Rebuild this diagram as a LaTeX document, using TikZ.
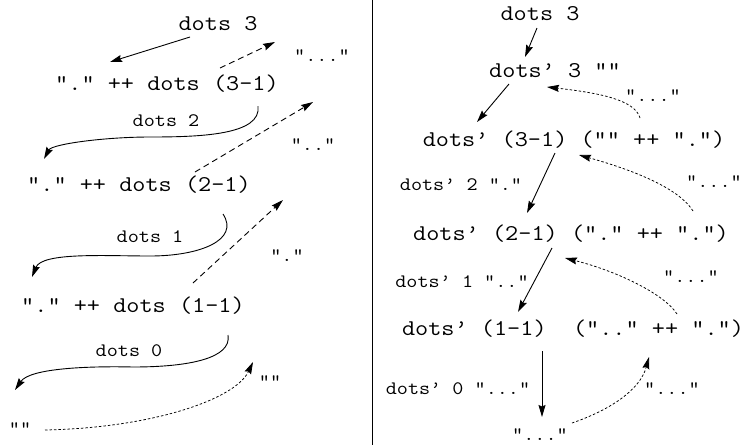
\documentclass[tikz,border=0pt]{standalone}
\usepackage{fontspec}
\usetikzlibrary{arrows.meta}
% typewriter text, widened to Courier-like proportions
\newcommand\wide[1]{\scalebox{1.135}[1]{#1}}
\begin{document}
\begin{tikzpicture}[x=1pt,y=-1pt,
  expr/.style={font=\ttfamily\fontsize{22.5}{24}\selectfont, inner sep=0pt, anchor=base},
  lbl/.style={font=\ttfamily\fontsize{19}{20}\selectfont, inner sep=0pt, anchor=base},
  link/.style={line width=0.9pt, -{Stealth[length=12pt,width=7pt,inset=1.5pt]}},
  dashlink/.style={link, dash pattern=on 6pt off 4pt},
  dotlink/.style={link, line width=0.75pt, dash pattern=on 2.5pt off 2pt},
]
\useasboundingbox (0,0) rectangle (745,445);

% divider between the two evaluations
\draw[line width=1.2pt] (372.5,0) -- (372.5,445);

% ---------- left: dots n = "." ++ dots (n-1) ----------
\node[expr] (l3)    at (218,30.5)  {\wide{dots 3}};
\node[expr] (l31)   at (167,90)    {\wide{"." ++ dots (3–1)}};
\node[lbl]  (lr3)   at (322,61)    {\wide{"..."}};
\node[lbl]  (ld2)   at (166,126.5) {\wide{dots 2}};
\node[lbl]  (lr2)   at (313,150)   {\wide{".."}};
\node[expr] (l21)   at (139,191.5) {\wide{"." ++ dots (2–1)}};
\node[lbl]  (ld1)   at (150,242.5) {\wide{dots 1}};
\node[lbl]  (lr1)   at (287,261.5) {\wide{"."}};
\node[expr] (l11)   at (133,312)   {\wide{"." ++ dots (1–1)}};
\node[lbl]  (ld0)   at (129,356.5) {\wide{dots 0}};
\node[lbl]  (lr0)   at (270,387)   {\wide{""}};
\node[lbl]  (lbase) at (20,434)    {\wide{""}};

\draw[link] ([shift={(-28,6.5)}]l3.base) -- ([shift={(-57,-28)}]l31.base);
\draw[dashlink] ([shift={(53,-22)}]l31.base) -- ([shift={(-47,-19)}]lr3.base);
\draw[link] ([shift={(91,16)}]l31.base)
  .. controls (262,135) and (200,137) .. (150,137)
  .. controls (105,137) and (52,144) .. ([shift={(-95,-32.5)}]l21.base);
\draw[dashlink] ([shift={(56,-19.5)}]l21.base) -- ([shift={(0,-48)}]lr2.base);
\draw[link] ([shift={(84,22.5)}]l21.base)
  .. controls (240,240) and (200,256) .. (150,256)
  .. controls (105,256) and (42,252) .. ([shift={(-101,-35)}]l11.base);
\draw[dashlink] ([shift={(60,-29)}]l11.base) -- ([shift={(-4,-61.5)}]lr1.base);
\draw[link] ([shift={(95,23)}]l11.base)
  .. controls (232,358) and (190,367) .. (133,367)
  .. controls (90,366) and (30,368) .. ([shift={(-5,-44)}]lbase.base);
\draw[dotlink] ([shift={(25,-4)}]lbase.base)
  .. controls (150,428) and (235,400) .. ([shift={(-17,-25)}]lr0.base);

% ---------- right: accumulating version dots' ----------
\node[expr] (r3)   at (540,20.5) {\wide{dots 3}};
\node[expr] (r3p)  at (555,77.5) {\wide{dots’ 3 ""}};
\node[lbl]  (rr3)  at (653,101)  {\wide{"..."}};
\node[expr] (r31)  at (574,146)  {\wide{dots’ (3–1) ("" ++ ".")}};
\node[lbl]  (rd2)  at (461,190.5){\wide{dots’ 2 "."}};
\node[lbl]  (rr2)  at (714,187)  {\wide{"..."}};
\node[expr] (r21)  at (571,240)  {\wide{dots’ (2–1) ("." ++ ".")}};
\node[lbl]  (rd1)  at (462,287.5){\wide{dots’ 1 ".."}};
\node[lbl]  (rr1)  at (691,282)  {\wide{"..."}};
\node[expr] (r11)  at (573,335)  {\wide{dots’ (1–1)\ \ (".." ++ ".")}};
\node[lbl]  (rd0)  at (458,394)  {\wide{dots’ 0 "..."}};
\node[lbl]  (rr0)  at (672,394)  {\wide{"..."}};
\node[lbl]  (rbot) at (540,440.5){\wide{"..."}};

\draw[link] ([shift={(-3,7.5)}]r3.base) -- ([shift={(-30,-20.5)}]r3p.base);
\draw[link] ([shift={(-46,6.5)}]r3p.base) -- ([shift={(-97,-24)}]r31.base);
\draw[dotlink] ([shift={(66,-28)}]r31.base)
  .. controls (635,100) and (600,93) .. ([shift={(-8,9.5)}]r3p.base);
\draw[link] ([shift={(-19,7)}]r31.base) -- ([shift={(-44,-27)}]r21.base);
\draw[dotlink] ([shift={(122,-29)}]r21.base)
  .. controls (680,190) and (640,172) .. ([shift={(5,9)}]r31.base);
\draw[link] ([shift={(-19,8)}]r21.base) -- ([shift={(-55,-23)}]r11.base);
\draw[dotlink] ([shift={(104,-21)}]r11.base)
  .. controls (665,295) and (620,272) .. ([shift={(-6,18)}]r21.base);
\draw[link] ([shift={(-31,16)}]r11.base) -- ([shift={(2,-23.5)}]rbot.base);
\draw[dotlink] ([shift={(32,-17.5)}]rbot.base)
  .. controls (610,410) and (640,390) .. ([shift={(76,22)}]r11.base);
\end{tikzpicture}
\end{document}
